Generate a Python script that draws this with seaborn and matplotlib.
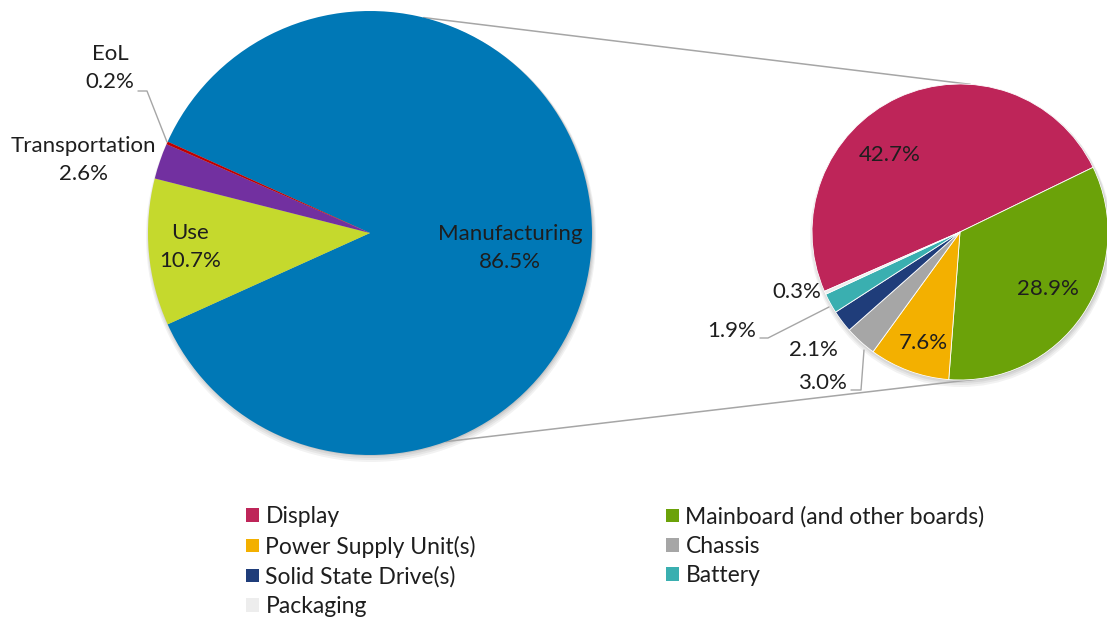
import numpy as np
import matplotlib
matplotlib.use("Agg")
import matplotlib.pyplot as plt
import seaborn as sns
from matplotlib.patches import Patch, Circle

# ------------------------------------------
# DATA
# ------------------------------------------
main_names = ["Manufacturing", "Use", "Transportation", "EoL"]
main_values = [86.5, 10.7, 2.6, 0.2]
main_colors = ["#0078B6", "#C5D92D", "#7230A0", "#C00000"]

part_names = ["Display", "Mainboard (and other boards)", "Power Supply Unit(s)",
              "Chassis", "Solid State Drive(s)", "Battery", "Packaging"]
part_values = [42.7, 28.9, 7.6, 3.0, 2.1, 1.9, 0.3]
part_colors = ["#BE2559", "#6BA209", "#F3B000", "#A6A6A6", "#1F3D7A", "#3AAFB0", "#EDEDED"]

# ------------------------------------------
# FIGURE (axes in pixel units, y pointing up)
# ------------------------------------------
sns.set_theme(style="white")
plt.rcParams["font.family"] = ["Lato", "DejaVu Sans"]
TXT = "#1E1E1E"
W, H = 1107, 617

fig = plt.figure(figsize=(W / 100, H / 100), dpi=100)
ax = fig.add_axes([0, 0, 1, 1])


def px(x, y):
    return x, H - y


c1, r1 = px(370, 233), 222
c2, r2 = px(960, 232), 148

# soft shadow under both pies
for c, r in [(c1, r1), (c2, r2)]:
    for k, a in enumerate([0.05, 0.05, 0.06, 0.08]):
        ax.add_patch(Circle((c[0] + 1, c[1] - 4 + k), r + 3 - k, color="black",
                            alpha=a, lw=0, zorder=0))

start1 = 180 * main_values[0] / 100
ax.pie(main_values, colors=main_colors, center=c1, radius=r1,
       startangle=start1, counterclock=False,
       wedgeprops=dict(linewidth=0, zorder=1), frame=True)

start2 = 180 + 180 * part_values[-1] / sum(part_values) + 23
ax.pie(part_values, colors=part_colors, center=c2, radius=r2,
       startangle=start2, counterclock=False,
       wedgeprops=dict(edgecolor="white", linewidth=0.6, zorder=1), frame=True)

ax.set_xlim(0, W)
ax.set_ylim(0, H)
ax.set_aspect("equal")
ax.axis("off")

# connector lines between the two pies
for a1, a2 in [(76, 86), (-70, -84)]:
    p1 = (c1[0] + r1 * np.cos(np.radians(a1)), c1[1] + r1 * np.sin(np.radians(a1)))
    p2 = (c2[0] + r2 * np.cos(np.radians(a2)), c2[1] + r2 * np.sin(np.radians(a2)))
    ax.plot([p1[0], p2[0]], [p1[1], p2[1]], color="#A6A6A6", lw=1.1, zorder=0.5)

# ------------------------------------------
# LABELS
# ------------------------------------------
fs = 16
main_label_pos = [(510, 248), (190, 247), (83, 160), (110, 68)]
for name, val, (x, y) in zip(main_names, main_values, main_label_pos):
    ax.text(*px(x, y), f"{name}\n{val:.1f}%", ha="center", va="center",
            fontsize=fs, color=TXT, linespacing=1.5, zorder=3)

part_label_pos = [(890, 155), (1048, 289), (923, 343), (822, 383),
                  (813, 350), (732, 331), (797, 292)]
for val, (x, y) in zip(part_values, part_label_pos):
    ax.text(*px(x, y), f"{val:.1f}%", ha="center", va="center",
            fontsize=fs, color=TXT, zorder=3)

# leader lines
leaders = [
    [(138, 91), (147, 91), (167, 142)],
    [(760, 338), (768, 338), (829, 307)],
    [(851, 390), (861, 390), (864, 350)],
]
for pts in leaders:
    xs, ys = zip(*[px(x, y) for x, y in pts])
    ax.plot(xs, ys, color="#A6A6A6", lw=1, zorder=2)

# ------------------------------------------
# LEGEND
# ------------------------------------------
handles = [Patch(facecolor=c, edgecolor="none") for c in part_colors]
leg_kw = dict(frameon=False, fontsize=16.5, handlelength=0.55, handleheight=0.55,
              handletextpad=0.3, labelspacing=0.37, borderpad=0, borderaxespad=0,
              loc="upper left", labelcolor=TXT)
col1 = [0, 2, 4, 6]
col2 = [1, 3, 5]
leg1 = ax.legend([handles[i] for i in col1], [part_names[i] for i in col1],
                 bbox_to_anchor=px(246, 506), bbox_transform=ax.transData, **leg_kw)
ax.add_artist(leg1)
ax.legend([handles[i] for i in col2], [part_names[i] for i in col2],
          bbox_to_anchor=px(666, 506), bbox_transform=ax.transData, **leg_kw)

plt.savefig("out.png", dpi=100, facecolor="white")
